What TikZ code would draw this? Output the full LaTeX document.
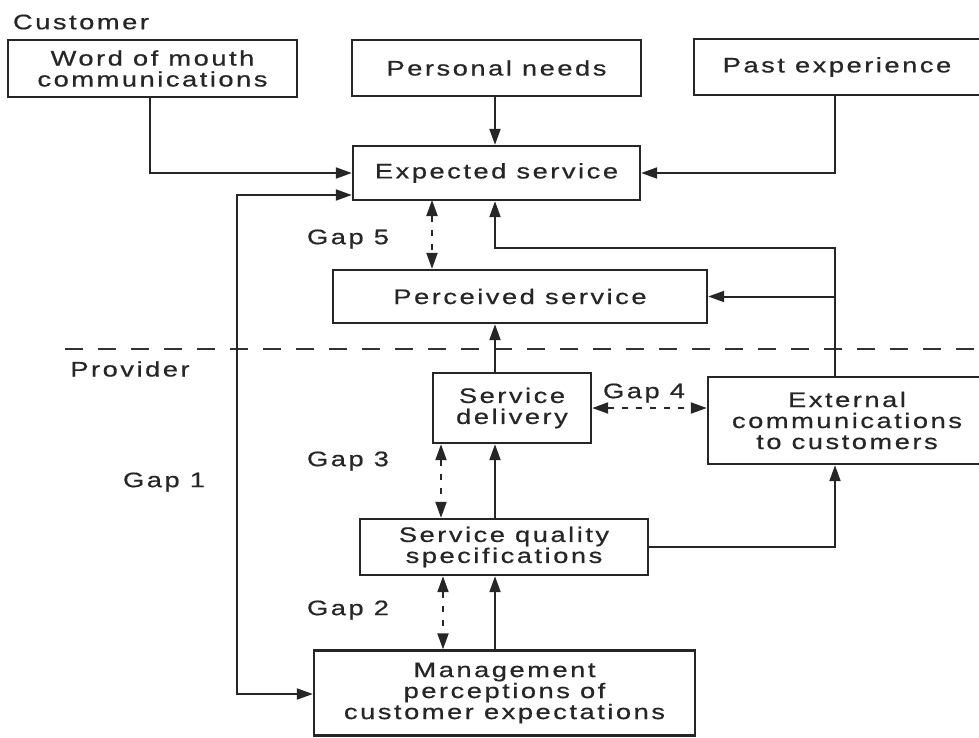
\documentclass[tikz,border=0pt]{standalone}
\usepackage{fontspec}
\setmainfont{Liberation Sans}[FakeStretch=1.3, LetterSpace=12, FakeBold=0.6]
\usetikzlibrary{arrows.meta,calc}
\begin{document}
\begin{tikzpicture}[x=1pt,y=-1pt,
  every node/.style={font=\fontsize{21}{21}\selectfont, text=black!85},
  box/.style={draw=black!85, line width=2.4pt, inner sep=0pt, align=center},
  conn/.style={draw=black!85, line width=2pt},
  tip/.tip={Triangle[length=16pt,width=11pt]},
  arr/.style={conn, -tip},
  darr/.style={conn, dash pattern=on 6pt off 8pt, tip-tip},
  lbl/.style={inner sep=0pt}]
\clip (0,0) rectangle (979,737);
\fill[white] (0,0) rectangle (979,737);

% customer side
\node[lbl] (cust) at (81,22) {Customer};
\node[box, minimum width=289pt, minimum height=57pt] (wom) at (152.5,68.5) {Word of mouth\\communications};
\node[box, minimum width=289pt, minimum height=56pt] (pn) at (496.5,68) {Personal needs};
\node[box, minimum width=286pt, minimum height=56pt] (pe) at (837,67) {Past experience};
\node[box, minimum width=287pt, minimum height=54pt] (es) at (496.5,173) {Expected service};
\node[box, minimum width=374pt, minimum height=53pt] (ps) at (520,296.5) {Perceived service};

% provider side
\node[lbl] (prov) at (130,369) {Provider};
\node[box, minimum width=158pt, minimum height=70pt] (sd) at (512,408) {Service\\delivery};
\node[box, minimum width=278pt, minimum height=87pt] (ec) at (847,420.5) {External\\communications\\to customers};
\node[box, minimum width=288pt, minimum height=56pt] (sq) at (504,547) {Service quality\\specifications};
\node[box, minimum width=381pt, minimum height=85pt] (mp) at (504.5,693) {Management\\perceptions of\\customer expectations};

% gap labels
\node[lbl] (g5) at (348,239) {Gap 5};
\node[lbl] (g4) at (644,393) {Gap 4};
\node[lbl] (g3) at (348,461) {Gap 3};
\node[lbl] (g1) at (164,482) {Gap 1};
\node[lbl] (g2) at (348,610) {Gap 2};

% helper coordinates
\coordinate (cx) at (495,0);
\coordinate (rx) at (835,248);
\coordinate (g1t) at (237,195);
\coordinate (g1b) at (237,694);

% divider
\draw[black!80, line width=2pt, dash pattern=on 18pt off 15pt] (65,349) -- (990,349);

% connectors into expected service
\draw[arr] (150,97.5) |- (es.west);
\draw[arr] (pn.south -| cx) -- (es.north -| cx);
\draw[arr] (pe.south -| rx) |- (es.east);
\draw[arr] (ec.north -| rx) -- (rx) -| (es.south -| cx);
\draw[arr] (ps.east -| rx) -- (ps.east);

% gap 1
\draw[conn, tip-tip] (es.west |- g1t) -- (g1t) -- (g1b) -- (mp.west |- g1b);

% gap 5
\draw[darr] (432,200) -- (ps.north -| 432,0);

% provider connectors
\draw[arr] (sd.north -| cx) -- (ps.south -| cx);
\draw[darr] (sd.east) -- (sd.east -| ec.west);
\draw[darr] (sd.south -| 441,0) -- (sq.north -| 441,0);
\draw[arr] (sq.north -| cx) -- (sd.south -| cx);
\draw[arr] (sq.east) -| (ec.south -| rx);
\draw[darr] (sq.south -| 443,0) -- (mp.north -| 443,0);
\draw[arr] (mp.north -| cx) -- (sq.south -| cx);
\end{tikzpicture}
\end{document}
